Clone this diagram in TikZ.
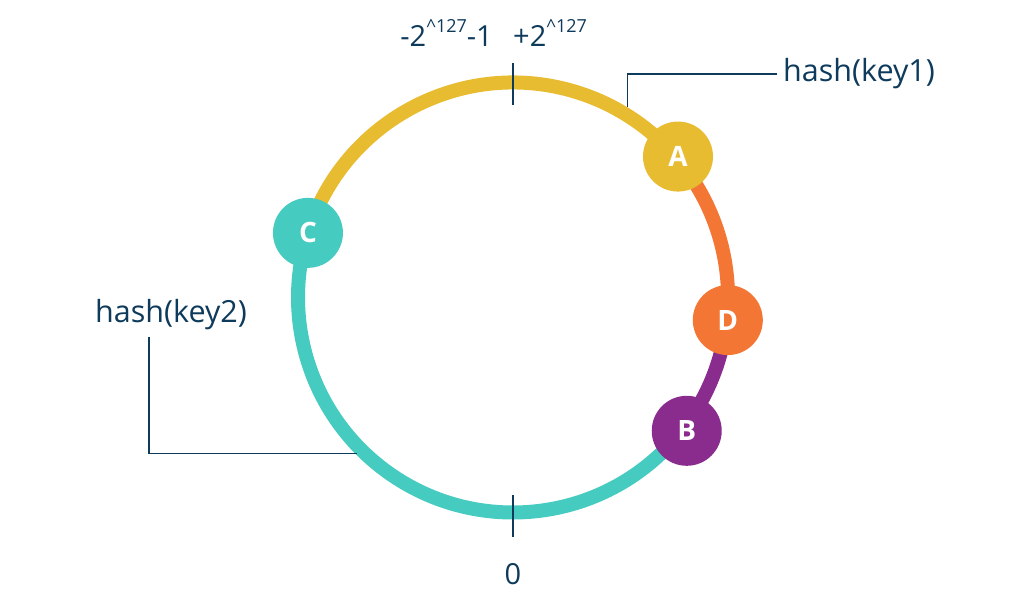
\documentclass[tikz,border=0pt]{standalone}
\usepackage{fontspec}
\setmainfont{Open Sans}
\usetikzlibrary{calc}
\definecolor{navy}{HTML}{0E3A5B}
\definecolor{ringyel}{HTML}{E8BC31}
\definecolor{ringora}{HTML}{F37634}
\definecolor{ringpur}{HTML}{8A2C8D}
\definecolor{ringtea}{HTML}{46CBC0}
\tikzstyle{ring} = [line width=14, line cap=butt]
\tikzstyle{srv} = [circle, minimum size=70, inner sep=0, text=white, font=\fontsize{28}{28}\selectfont\bfseries]
\tikzstyle{lbl} = [text=navy, font=\fontsize{29}{30}\selectfont, inner xsep=6, inner ysep=0]
\tikzstyle{hashlbl} = [lbl, font=\fontsize{30.5}{31}\selectfont]
\tikzstyle{lead} = [navy, line width=1.3]
\newcommand{\pw}[1]{\raisebox{0.5em}{\fontsize{18}{18}\selectfont\textasciicircum#1}}

\begin{document}
\begin{tikzpicture}[x=1pt,y=1pt]
\useasboundingbox (0,0) rectangle (1026,600);
\coordinate (o) at (513,302.5);
% the ring, one arc per server
\draw[ring, ringyel] ($(o)+(162.5:215)$) arc[start angle=162.5, end angle=40, radius=215];
\draw[ring, ringora] ($(o)+(40:215)$) arc[start angle=40, end angle=-6, radius=215];
\draw[ring, ringpur] ($(o)+(-6:215)$) arc[start angle=-6, end angle=-38, radius=215];
\draw[ring, ringtea] ($(o)+(-38:215)$) arc[start angle=-38, end angle=-197.5, radius=215];
% ticks
\coordinate (t1) at (513,537);
\coordinate (t2) at (513,495);
\coordinate (b1) at (513,105);
\coordinate (b2) at (513,63);
\draw[lead] (t1) -- (t2);
\draw[lead] (b1) -- (b2);
\node[srv, fill=ringyel] (A) at ($(o)+(40.5:217)$) {A};
\node[srv, fill=ringora] (D) at ($(o)+(-6:216)$) {D};
\node[srv, fill=ringpur] (B) at ($(o)+(-37.5:219)$) {B};
\node[srv, fill=ringtea] (C) at ($(o)+(162.5:215)$) {C};
\node[lbl, anchor=base east] (lo) at (499,553) {-2\pw{127}-1};
\node[lbl, anchor=base west] (hi) at (507,553) {+2\pw{127}};
\node[lbl, anchor=base] (zero) at (513,16) {0};
\node[hashlbl, anchor=base west] (key1) at (777,518) {hash(key1)};
\node[hashlbl, anchor=base west] (key2) at (89,277) {hash(key2)};
\coordinate (p1) at ($(o)+(59:222)$);
\coordinate (p2) at ($(o)+(225:221)$);
\coordinate (k2) at (149,263);
\draw[lead] (p1) |- (key1.west);
\draw[lead] (k2) |- (p2);
\end{tikzpicture}
\end{document}
